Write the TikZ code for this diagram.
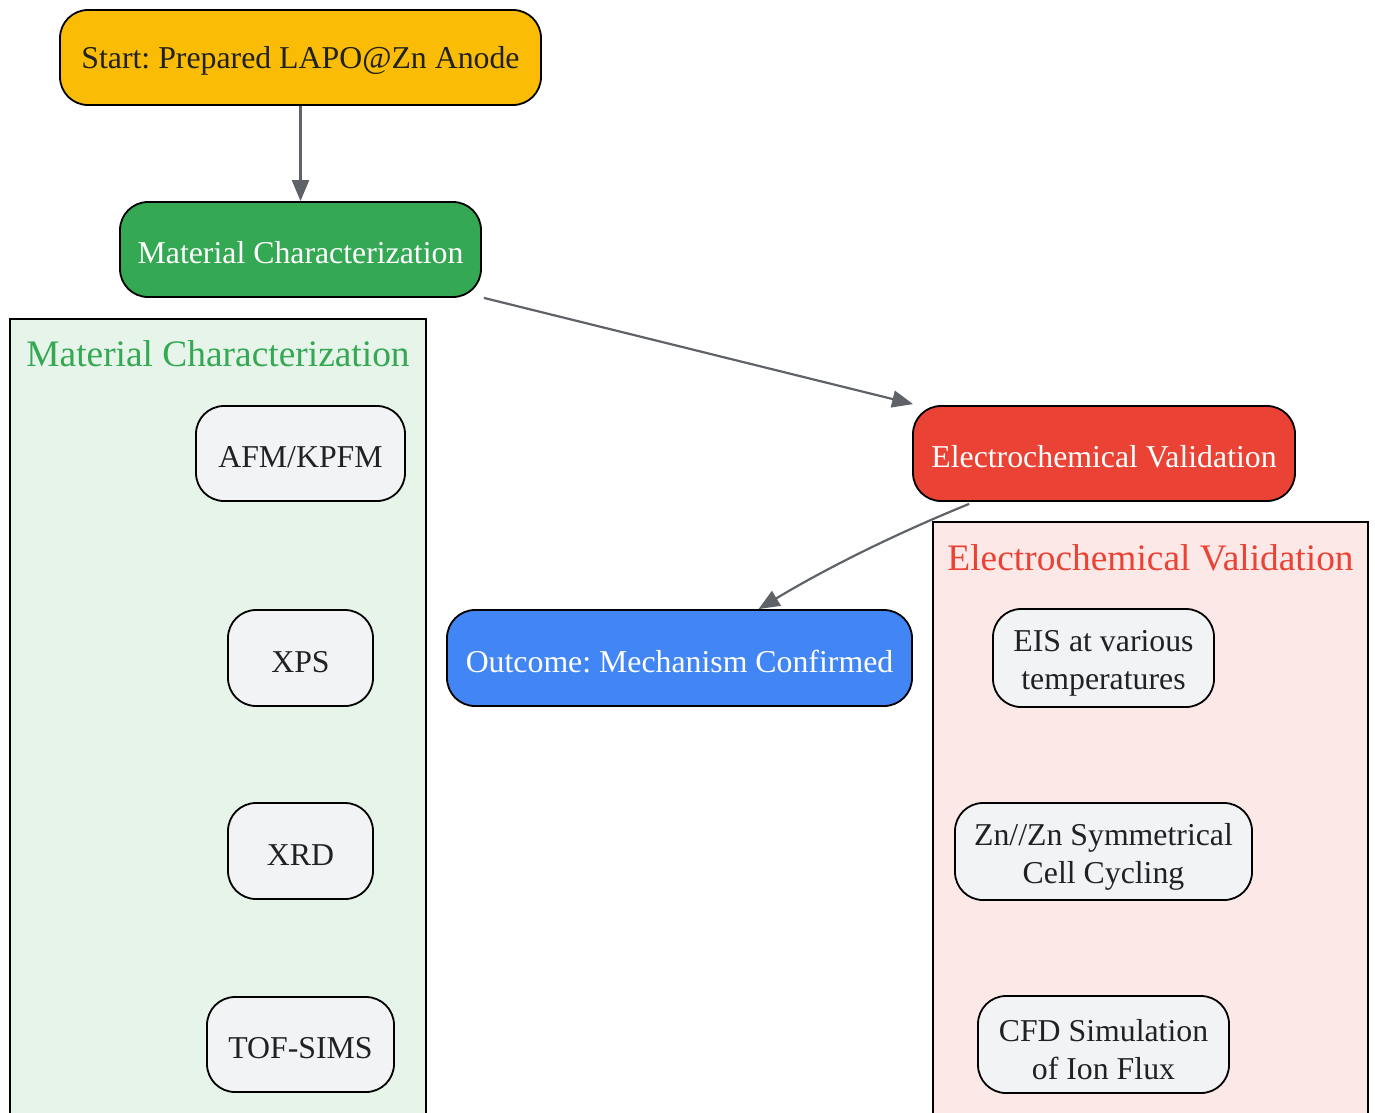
\documentclass[tikz,border=0pt]{standalone}
\usepackage{fontspec}
\setmainfont{Liberation Serif}
\usetikzlibrary{arrows.meta,calc}
\definecolor{txt}{HTML}{202124}
\definecolor{edgec}{HTML}{5F6368}
\definecolor{cyellow}{HTML}{FBBC05}
\definecolor{cgreen}{HTML}{34A853}
\definecolor{cred}{HTML}{EA4335}
\definecolor{cblue}{HTML}{4285F4}
\definecolor{lgreen}{HTML}{E6F4EA}
\definecolor{lred}{HTML}{FCE8E6}
\definecolor{lgray}{HTML}{F1F3F4}
\frenchspacing
\newcommand{\firststrut}{\rule{0pt}{32pt}}
\tikzset{
  box/.style={draw=black, line width=1.8pt, rounded corners=28pt, align=center,
    font=\fontsize{31.8}{38}\selectfont, inner sep=0pt,
    execute at begin node={\rule{0pt}{29pt}}},
  mainbox/.style={box, text=white},
  subbox/.style={box, fill=lgray, text=txt},
  cluster/.style={draw=black, line width=1.8pt},
  clabel/.style={font=\fontsize{37.4}{42}\selectfont, inner sep=0pt},
  conn/.style={draw=edgec, line width=2.2pt, -{Triangle[length=21pt,width=17pt]}},
}
\begin{document}
\begin{tikzpicture}[x=1pt,y=-1pt]
\useasboundingbox (0,0) rectangle (1375,1112);
% clusters
\draw[cluster, fill=lgreen] (10,1125) -- (10,319) -- (426,319) -- (426,1125);
\draw[cluster, fill=lred] (933,1125) -- (933,522) -- (1368,522) -- (1368,1125);
\node[clabel, text=cgreen] (cl1) at (218,354) {Material Characterization};
\node[clabel, text=cred] (cl2) at (1150.5,558) {Electrochemical Validation};
% main nodes
\node[box, fill=cyellow, text=txt, minimum width=481pt, minimum height=95pt] (start) at (300.5,57.5) {Start: Prepared LAPO@Zn Anode};
\node[mainbox, fill=cgreen, minimum width=361pt, minimum height=95pt] (mat) at (300.5,249.5) {Material Characterization};
\node[mainbox, fill=cred, minimum width=382pt, minimum height=95pt] (elec) at (1104,453.5) {Electrochemical Validation};
\node[mainbox, fill=cblue, minimum width=465pt, minimum height=96pt] (out) at (679.5,658) {Outcome: Mechanism Confirmed};
% sub nodes
\node[subbox, minimum width=209pt, minimum height=95pt] (afm) at (300.5,453.5) {AFM/KPFM};
\node[subbox, minimum width=145pt, minimum height=96pt] (xps) at (300.5,658) {XPS};
\node[subbox, minimum width=145pt, minimum height=96pt] (xrd) at (300.5,851) {XRD};
\node[subbox, minimum width=187pt, minimum height=95pt] (tof) at (300.5,1044.5) {TOF-SIMS};
\node[subbox, minimum width=221pt, minimum height=98pt] (eis) at (1103.5,658) {\firststrut EIS at various\\temperatures};
\node[subbox, minimum width=297pt, minimum height=97pt] (znzn) at (1103.5,851.5) {\firststrut Zn//Zn Symmetrical\\Cell Cycling};
\node[subbox, minimum width=251pt, minimum height=97pt] (cfd) at (1103.5,1044.5) {\firststrut CFD Simulation\\of Ion Flux};
% connectors
\draw[conn] ($(mat.south east)+(2,0)$) -- ($(elec.north west)+(1,-1)$);
\draw[conn] (start.south) -- (mat.north);
\draw[conn] ($(elec.south west)+(57,2)$) .. controls (900,532) and (830,566) .. ($(out.north)+(79,0)$);
\end{tikzpicture}
\end{document}
